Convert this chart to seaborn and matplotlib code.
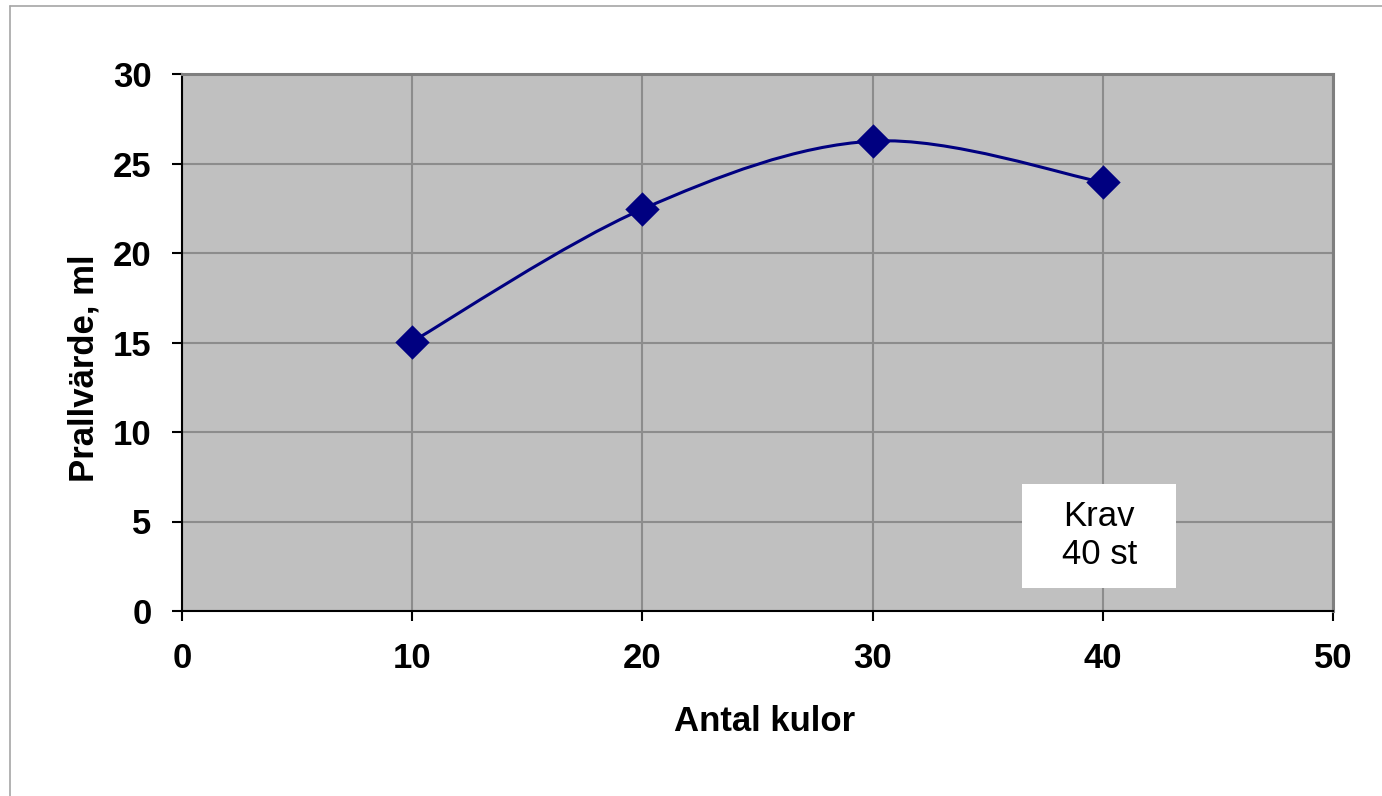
import matplotlib
matplotlib.use("Agg")
import matplotlib.pyplot as plt
from matplotlib.path import Path
from matplotlib.patches import PathPatch, Rectangle
from matplotlib.lines import Line2D
import numpy as np
import pandas as pd
import seaborn as sns

# Measured impact values per number of balls
antal_kulor = [10, 20, 30, 40]
prallvarde = [15.05, 22.45, 26.25, 23.95]

x_ticks = [0, 10, 20, 30, 40, 50]
y_ticks = [0, 5, 10, 15, 20, 25, 30]

x_label = "Antal kulor"
y_label = "Prallvärde, ml"
note_text = "Krav\n40 st"

sns.set_theme(style="white")
plt.rcParams["font.family"] = ["Liberation Sans", "DejaVu Sans"]
plt.rcParams["text.color"] = "black"
plt.rcParams["axes.labelcolor"] = "black"
plt.rcParams["xtick.color"] = "black"
plt.rcParams["ytick.color"] = "black"

NAVY = "#000080"
df = pd.DataFrame({"kulor": antal_kulor, "prall": prallvarde})

fig = plt.figure(figsize=(13.82, 7.96), dpi=100)
ax = fig.add_axes([182 / 1382, 1 - 611 / 796, 1151 / 1382, 537 / 796])
ax.set_facecolor("#C0C0C0")

# Smoothed connecting line: cubic Bezier segments through the data points
pts = np.column_stack([antal_kulor, prallvarde]).astype(float)
n = len(pts)
verts = [tuple(pts[0])]
codes = [Path.MOVETO]
for i in range(n - 1):
    p_prev = pts[i - 1] if i > 0 else pts[i]
    p_next2 = pts[i + 2] if i + 2 < n else pts[i + 1]
    c1 = pts[i] + (pts[i + 1] - p_prev) / 6.0
    c2 = pts[i + 1] - (p_next2 - pts[i]) / 6.0
    verts += [tuple(c1), tuple(c2), tuple(pts[i + 1])]
    codes += [Path.CURVE4] * 3
ax.add_patch(PathPatch(Path(verts, codes), facecolor="none", edgecolor=NAVY,
                       lw=2.2, zorder=3, capstyle="round"))

sns.scatterplot(data=df, x="kulor", y="prall", marker="D", s=17.5 ** 2,
                color=NAVY, edgecolor=NAVY, linewidth=0, zorder=4, ax=ax)

ax.set_xlim(0, 50)
ax.set_ylim(0, 30)
ax.set_xticks(x_ticks)
ax.set_yticks(y_ticks)
ax.set_xticklabels([str(v) for v in x_ticks], fontsize=25, fontweight="bold")
ax.set_yticklabels([str(v) for v in y_ticks], fontsize=25, fontweight="bold")
ax.tick_params(axis="both", direction="out", length=7, width=1.5,
               color="black", labelcolor="black", pad=15,
               bottom=True, left=True)

ax.grid(True, color="#8C8C8C", lw=1.5, zorder=0)
ax.set_axisbelow(True)

for side in ("left", "bottom"):
    ax.spines[side].set_color("#000000")
    ax.spines[side].set_linewidth(1.5)
for side in ("top", "right"):
    ax.spines[side].set_color("#7F7F7F")
    ax.spines[side].set_linewidth(2.2)

ax.set_xlabel(x_label, fontsize=25, fontweight="bold", color="black")
ax.set_ylabel(y_label, fontsize=25, fontweight="bold", color="black")
ax.xaxis.set_label_coords(0.506, -0.175)
ax.yaxis.set_label_coords(-0.071, 0.452)

# Requirement note box
ax.add_patch(Rectangle((36.5, 1.28), 6.7, 5.82, facecolor="white",
                       edgecolor="none", zorder=5))
ax.text(39.85, 4.2, note_text, ha="center", va="center", fontsize=25,
        linespacing=1.2, color="black", zorder=6)

# Outer chart frame
fig.add_artist(Line2D([10 / 1382, 1.0], [1 - 6 / 796, 1 - 6 / 796],
                      transform=fig.transFigure, color="#A6A6A6", lw=1.2))
fig.add_artist(Line2D([10 / 1382, 10 / 1382], [0.0, 1 - 6 / 796],
                      transform=fig.transFigure, color="#A6A6A6", lw=1.2))

fig.savefig("out.png", dpi=100)
